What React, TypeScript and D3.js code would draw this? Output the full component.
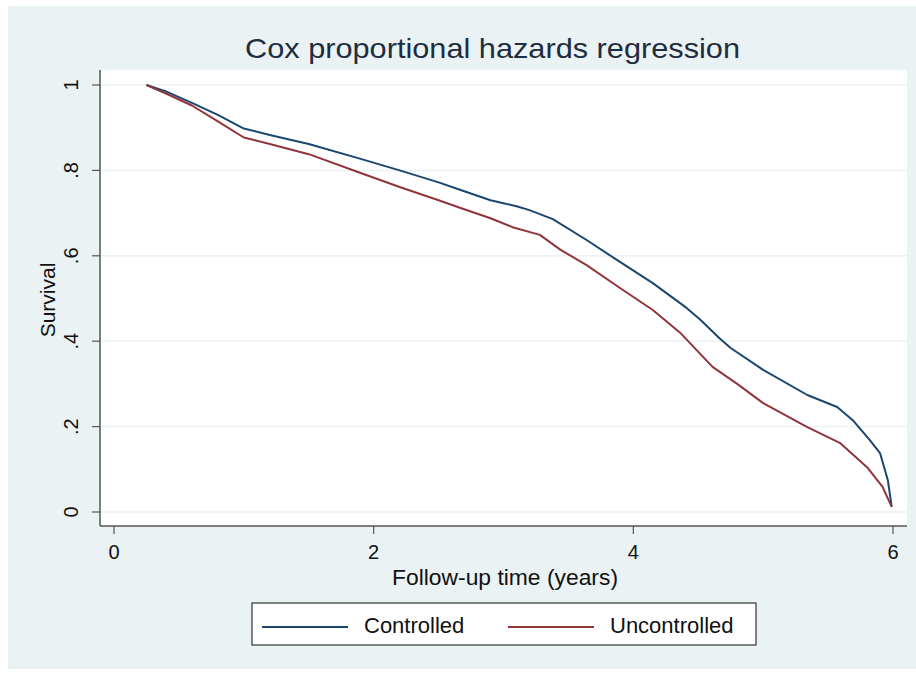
import React from "react";
import * as d3 from "d3";

const controlledT = [0.25, 0.4, 0.6, 0.8, 1.0, 1.2, 1.5, 1.9, 2.2, 2.5, 2.67, 2.9, 3.1, 3.2, 3.38, 3.64, 3.9, 4.15, 4.41, 4.51, 4.67, 4.75, 5.0, 5.34, 5.57, 5.69, 5.82, 5.9, 5.96, 5.99];
const controlledS = [1.0, 0.985, 0.958, 0.93, 0.898, 0.883, 0.862, 0.827, 0.8, 0.772, 0.754, 0.73, 0.716, 0.707, 0.686, 0.637, 0.585, 0.536, 0.478, 0.452, 0.405, 0.384, 0.333, 0.274, 0.246, 0.215, 0.169, 0.138, 0.075, 0.012];
const uncontrolledT = [0.25, 0.4, 0.6, 0.8, 1.0, 1.2, 1.5, 1.9, 2.2, 2.5, 2.67, 2.9, 3.07, 3.28, 3.44, 3.64, 3.9, 4.15, 4.36, 4.61, 4.8, 5.0, 5.34, 5.59, 5.8, 5.92, 5.99];
const uncontrolledS = [1.0, 0.98, 0.952, 0.915, 0.877, 0.862, 0.838, 0.794, 0.761, 0.73, 0.712, 0.688, 0.667, 0.649, 0.614, 0.578, 0.524, 0.473, 0.42, 0.34, 0.3, 0.255, 0.199, 0.162, 0.105, 0.059, 0.012];
const xTicks = [0, 2, 4, 6];
const yTicks = [0, 0.2, 0.4, 0.6, 0.8, 1];
const yTickLabels = ["0", ".2", ".4", ".6", ".8", "1"];
const seriesNames = ["Controlled", "Uncontrolled"];
const seriesColors = ["#1a476f", "#90353b"];

export default function App() {
  const W = 916, H = 675;
  const plot = { left: 100, right: 907, top: 70, bottom: 526 };
  const x = d3.scaleLinear().domain([0, 6]).range([114, 893]);
  const y = d3.scaleLinear().domain([0, 1]).range([512, 85]);
  const line = d3.line<[number, number]>().x(d => x(d[0])).y(d => y(d[1]));
  const series = [
    controlledT.map((t, i) => [t, controlledS[i]] as [number, number]),
    uncontrolledT.map((t, i) => [t, uncontrolledS[i]] as [number, number]),
  ];
  const font = "'Liberation Sans', Arial, Helvetica, sans-serif";
  return (
    <svg width={W} height={H} style={{ position: "absolute", left: 0, top: 0 }} fontFamily={font}>
      <rect x={0} y={0} width={W} height={H} fill="#ffffff" />
      <rect x={8} y={6} width={W - 8} height={663} fill="#eaf2f3" />
      <rect x={plot.left} y={plot.top} width={plot.right - plot.left} height={plot.bottom - plot.top} fill="#ffffff" />
      {yTicks.map((v, i) => (
        <line key={"g" + i} x1={plot.left} x2={plot.right} y1={y(v)} y2={y(v)} stroke="#eaf2f3" strokeWidth={1.5} />
      ))}
      <text x={492.5} y={58} textAnchor="middle" fontSize={28} fill="#1e2d40" textLength={495} lengthAdjust="spacingAndGlyphs">Cox proportional hazards regression</text>
      {series.map((s, i) => (
        <path key={"s" + i} d={line(s) || ""} fill="none" stroke={seriesColors[i]} strokeWidth={2} strokeLinejoin="round" />
      ))}
      <line x1={plot.left} x2={plot.left} y1={plot.top} y2={plot.bottom} stroke="#555" strokeWidth={1.5} />
      <line x1={plot.left} x2={plot.right} y1={plot.bottom} y2={plot.bottom} stroke="#555" strokeWidth={1.5} />
      {yTicks.map((v, i) => (
        <g key={"yt" + i}>
          <line x1={plot.left - 8} x2={plot.left} y1={y(v)} y2={y(v)} stroke="#555" strokeWidth={1.2} />
          <text transform={`translate(78,${y(v)}) rotate(-90)`} textAnchor="middle" fontSize={20} fill="#111">{yTickLabels[i]}</text>
        </g>
      ))}
      {xTicks.map((v, i) => (
        <g key={"xt" + i}>
          <line x1={x(v)} x2={x(v)} y1={plot.bottom} y2={plot.bottom + 8} stroke="#555" strokeWidth={1.2} />
          <text x={x(v)} y={559} textAnchor="middle" fontSize={20} fill="#111">{v}</text>
        </g>
      ))}
      <text x={505} y={585} textAnchor="middle" fontSize={22} fill="#111" textLength={226} lengthAdjust="spacingAndGlyphs">Follow-up time (years)</text>
      <text transform={`translate(55,300) rotate(-90)`} textAnchor="middle" fontSize={21} fill="#111">Survival</text>
      <rect x={252} y={603} width={504} height={42} fill="#ffffff" stroke="#333" strokeWidth={1.2} />
      {seriesNames.map((n, i) => (
        <g key={"l" + i}>
          <line x1={262 + i * 246} x2={348 + i * 246} y1={627} y2={627} stroke={seriesColors[i]} strokeWidth={2} />
          <text x={364 + i * 246} y={633} fontSize={22} fill="#111">{n}</text>
        </g>
      ))}
    </svg>
  );
}
